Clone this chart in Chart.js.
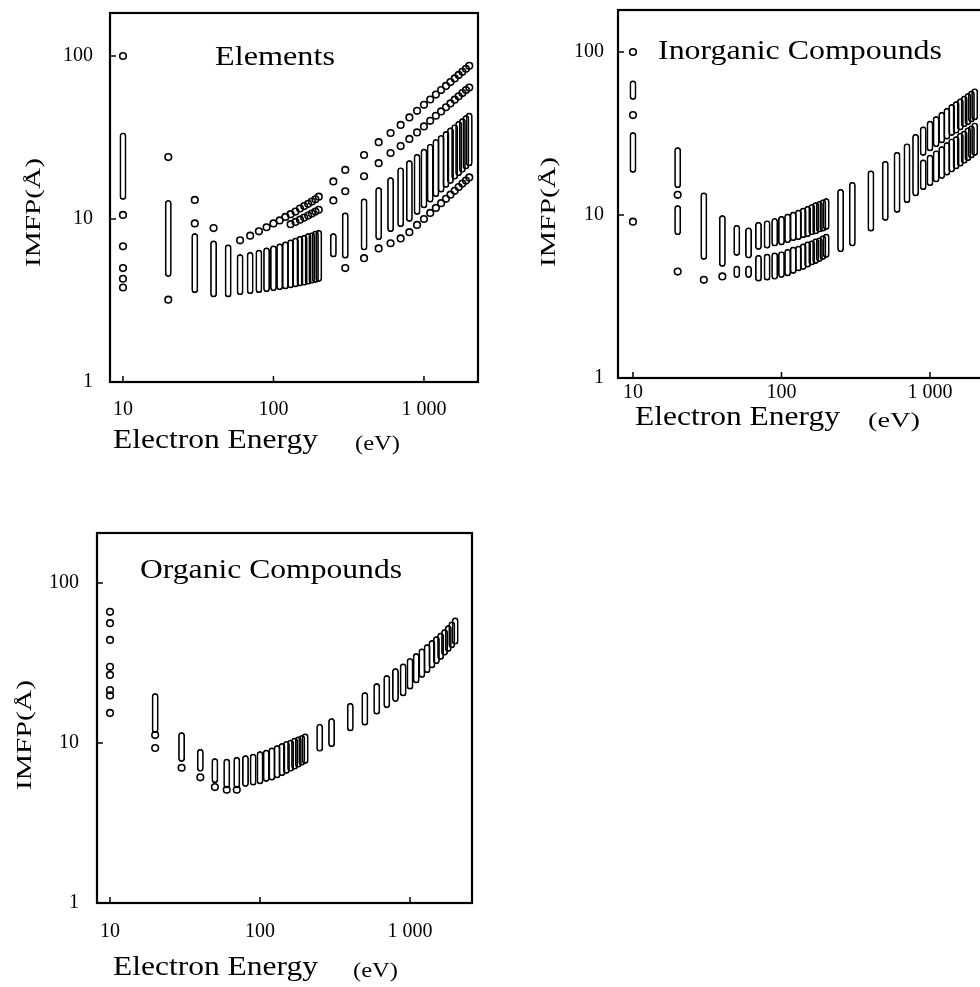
<!DOCTYPE html>
<html>
<head>
<meta charset="utf-8">
<script src="https://cdn.jsdelivr.net/npm/chart.js@4/dist/chart.umd.min.js"></script>
<style>
html, body { margin: 0; padding: 0; background: #fff; overflow: hidden; width: 980px; height: 987px; }
canvas { position: absolute; }
</style>
</head>
<body>
<canvas id="c1" width="490" height="470" style="left:0px;top:0px"></canvas>
<canvas id="c2" width="510" height="470" style="left:490px;top:0px"></canvas>
<canvas id="c3" width="490" height="497" style="left:0px;top:490px"></canvas>
<script>
// ---------- tick labels ----------
const xTickValues = [10, 100, 1000];
const xTickLabels = ['10', '100', '1 000'];
const yTickValues = [1, 10, 100];
const yTickLabels = ['1', '10', '100'];

// ---------- Elements: stacked-circle columns (low / high IMFP, Å) ----------
const elemColEnergy = [10, 20, 30, 40, 50, 60, 70, 80, 90, 100, 110, 120, 130, 140, 150, 160, 170, 180, 190, 200,
  250, 300, 400, 500, 600, 700, 800, 900, 1000, 1100, 1200, 1300, 1400, 1500, 1600, 1700, 1800, 1900, 2000];
const elemColLow = [13.1, 4.4, 3.5, 3.3, 3.3, 3.4, 3.45, 3.5, 3.55, 3.6, 3.65, 3.7, 3.75, 3.8, 3.85, 3.9, 3.95, 4.0, 4.05, 4.1,
  5.8, 5.7, 6.4, 7.4, 8.3, 8.9, 9.6, 10.6, 11.6, 12.6, 13.6, 14.5, 15.5, 16.4, 17.4, 18.3, 19.2, 20.1, 21];
const elemColHigh = [34, 13.1, 8.2, 7.4, 7.0, 6.1, 6.3, 6.5, 6.7, 6.9, 7.1, 7.3, 7.5, 7.7, 7.9, 8.0, 8.2, 8.3, 8.5, 8.6,
  8.2, 11, 13.4, 15.7, 18.1, 20.8, 23, 25.1, 27.1, 29, 31, 32.8, 34.7, 36.5, 38.2, 40, 41.7, 43.4, 45];
// Elements: single circles
const elemPtEnergy = [
  10, 10, 10, 10, 10, 10,
  20, 20,
  30, 30,
  40,
  60, 70, 80, 90, 100, 110, 120, 130, 140, 150, 160, 170, 180, 190, 200,
  130, 140, 150, 160, 170, 180, 190, 200,
  250, 250,
  300, 300, 300,
  400, 400, 400,
  500, 500, 500,
  600, 600, 600,
  700, 700, 700,
  800, 900, 1000, 1100, 1200, 1300, 1400, 1500, 1600, 1700, 1800, 1900, 2000,
  800, 900, 1000, 1100, 1200, 1300, 1400, 1500, 1600, 1700, 1800, 1900, 2000,
  800, 900, 1000, 1100, 1200, 1300, 1400, 1500, 1600, 1700, 1800, 1900, 2000];
const elemPtIMFP = [
  100, 10.6, 6.8, 5.0, 4.3, 3.8,
  24, 3.2,
  13.1, 9.4,
  8.8,
  7.4, 7.9, 8.4, 8.9, 9.4, 9.8, 10.3, 10.7, 11.1, 11.6, 12.0, 12.4, 12.8, 13.2, 13.7,
  9.3, 9.6, 9.9, 10.2, 10.5, 10.8, 11.1, 11.4,
  17, 13,
  20, 14.8, 5.0,
  24.7, 18.3, 5.75,
  29.6, 22, 6.6,
  33.7, 25.4, 7.1,
  37.8, 28, 7.6,
  42, 46.1, 50.2, 54.1, 58.0, 61.8, 65.5, 69.2, 72.9, 76.5, 80, 83.5, 87,
  31, 34, 37, 40, 43, 45.7, 48.5, 51.2, 54, 56.6, 59.2, 61.8, 64,
  8.3, 9.2, 10.0, 10.9, 11.7, 12.5, 13.3, 14.1, 14.9, 15.7, 16.5, 17.2, 18];

// ---------- Inorganic compounds ----------
const inorgColEnergy = [10, 10, 20, 20, 30, 40, 50, 50, 60, 60,
  70, 80, 90, 100, 110, 120, 130, 140, 150, 160, 170, 180, 190, 200,
  70, 80, 90, 100, 110, 120, 130, 140, 150, 160, 170, 180, 190, 200,
  250, 300, 400, 500, 600, 700, 800,
  900, 1000, 1100, 1200, 1300, 1400, 1500, 1600, 1700, 1800, 1900, 2000,
  900, 1000, 1100, 1200, 1300, 1400, 1500, 1600, 1700, 1800, 1900, 2000];
const inorgColLow = [50.8, 18.1, 14.6, 7.5, 5.3, 4.8, 5.6, 4.1, 5.4, 4.1,
  6.1, 6.2, 6.4, 6.5, 6.7, 6.9, 7.0, 7.2, 7.3, 7.5, 7.6, 7.8, 7.9, 8.1,
  3.9, 3.95, 4.0, 4.1, 4.2, 4.35, 4.5, 4.6, 4.75, 4.9, 5.0, 5.15, 5.3, 5.45,
  5.9, 6.4, 7.9, 9.2, 10.3, 11.8, 13,
  23, 24.5, 26, 27.5, 29, 30.5, 31.5, 33, 34.5, 35.5, 37, 38,
  14.2, 15, 15.8, 16.6, 17.4, 18.2, 19, 19.8, 20.6, 21.4, 22.2, 23];
const inorgColHigh = [67, 32.3, 26.1, 11.5, 13.8, 10, 8.7, 4.9, 8.4, 4.9,
  9.1, 9.3, 9.6, 9.9, 10.2, 10.5, 10.8, 11.1, 11.4, 11.7, 12.0, 12.2, 12.5, 12.7,
  5.7, 5.8, 5.9, 6.0, 6.2, 6.4, 6.5, 6.7, 6.9, 7.0, 7.2, 7.3, 7.5, 7.7,
  14.5, 16, 18.8, 21.5, 24.4, 27.6, 31.5,
  35, 38, 40.5, 43, 45.5, 48, 50, 52, 54, 56, 58, 60,
  22, 23.5, 25, 26.5, 28, 29.5, 30.5, 32, 33, 34.5, 35.5, 37];
const inorgPtEnergy = [10, 10, 10, 20, 20, 30, 40];
const inorgPtIMFP = [100, 41, 9.1, 13.3, 4.5, 4.0, 4.2];

// ---------- Organic compounds ----------
const orgColEnergy = [20, 30, 40, 50,
  60, 70, 80, 90, 100, 110, 120, 130, 140, 150, 160, 170, 180, 190, 200,
  250, 300, 400, 500, 600, 700, 800,
  900, 1000, 1100, 1200, 1300, 1400, 1500, 1600, 1700, 1800, 1900, 2000];
const orgColLow = [11.5, 7.6, 6.6, 5.6,
  5.2, 5.2, 5.3, 5.4, 5.5, 5.7, 5.8, 6.0, 6.2, 6.4, 6.6, 6.8, 7.0, 7.2, 7.4,
  8.8, 9.4, 11.8, 12.8, 15, 16.5, 18,
  19.5, 21.5, 23.5, 25.5, 27.3, 29.2, 31, 33, 35, 37, 39, 41];
const orgColHigh = [20.5, 11.7, 9.2, 8.05,
  8.0, 8.2, 8.4, 8.6, 8.9, 9.1, 9.4, 9.7, 10.0, 10.3, 10.5, 10.8, 11.0, 11.2, 11.5,
  13.2, 14.3, 17.8, 20.8, 23.7, 26.6, 29.4,
  31.5, 34, 36.5, 39, 41.5, 44, 46.5, 49, 51.5, 54.5, 57.5, 61];
const orgPtEnergy = [10, 10, 10, 10, 10, 10, 10, 10, 20, 20, 30, 40, 50, 60, 70];
const orgPtIMFP = [66, 56, 44, 29.9, 26.6, 21.4, 19.8, 15.4, 11.2, 9.3, 7.0, 6.1, 5.3, 5.1, 5.1];

// ---------- drawing helpers ----------
const SERIF = '"Liberation Serif", "Times New Roman", serif';

function drawFitted(ctx, t) {
  ctx.save();
  ctx.font = t.size + 'px ' + SERIF;
  ctx.textBaseline = 'alphabetic';
  ctx.textAlign = 'left';
  ctx.fillStyle = '#000';
  const natural = ctx.measureText(t.text).width;
  ctx.translate(t.x, t.y);
  if (t.rot) ctx.rotate(-Math.PI / 2);
  ctx.scale(t.w / natural, 1);
  ctx.fillText(t.text, 0, 0);
  ctx.restore();
}

function zeroPad(s) { s.paddingTop = 0; s.paddingBottom = 0; s.paddingLeft = 0; s.paddingRight = 0; }

function makePanel(canvasId, d, g) {
  const bars = d.colE.map((e, i) => ({ x: e, y: [d.colLow[i], d.colHigh[i]] }));
  const pts = d.ptE.map((e, i) => ({ x: e, y: d.ptV[i] }));
  const decor = {
    id: 'decor' + canvasId,
    afterDraw(chart) {
      const ctx = chart.ctx, a = chart.chartArea;
      const xs = chart.scales.x, ys = chart.scales.y;
      ctx.save();
      ctx.strokeStyle = '#000';
      ctx.lineWidth = 2.2;
      ctx.strokeRect(a.left, a.top, a.right - a.left, a.bottom - a.top);
      ctx.lineWidth = 1.5;
      ctx.beginPath();
      xTickValues.forEach(v => { const px = xs.getPixelForValue(v); ctx.moveTo(px, a.bottom); ctx.lineTo(px, a.bottom - 6); });
      yTickValues.forEach(v => { const py = ys.getPixelForValue(v); ctx.moveTo(a.left, py); ctx.lineTo(a.left + 6, py); });
      ctx.stroke();
      ctx.restore();
      g.texts.forEach(t => drawFitted(ctx, t));
    }
  };
  const tickFont = { family: SERIF, size: 20 };
  return new Chart(document.getElementById(canvasId), {
    type: 'scatter',
    data: {
      datasets: [
        { type: 'bar', data: bars, grouped: false, barThickness: 7, borderWidth: 1.7, borderColor: '#000',
          backgroundColor: 'rgba(0,0,0,0)', borderRadius: 3.5, borderSkipped: false, inflateAmount: 0 },
        { type: 'scatter', data: pts, pointStyle: 'circle', pointRadius: 3.3, borderWidth: 1.6,
          borderColor: '#000', backgroundColor: 'rgba(0,0,0,0)' }
      ]
    },
    options: {
      responsive: false,
      animation: false,
      events: [],
      layout: { padding: { left: 0, top: g.top, right: g.right, bottom: 0 } },
      plugins: { legend: { display: false }, tooltip: { enabled: false }, title: { display: false } },
      scales: {
        x: {
          type: 'logarithmic', min: g.xMin, max: g.xMax,
          grid: { display: false, drawTicks: false }, border: { display: false },
          afterFit: s => { s.height = g.xAxisH; zeroPad(s); },
          afterBuildTicks: s => { s.ticks = xTickValues.map(v => ({ value: v })); },
          ticks: { callback: (v, i) => xTickLabels[i], font: tickFont, color: '#000', padding: g.xPad,
                   maxRotation: 0, minRotation: 0, autoSkip: false }
        },
        y: {
          type: 'logarithmic', min: g.yMin, max: g.yMax,
          grid: { display: false, drawTicks: false }, border: { display: false },
          afterFit: s => { s.width = g.yAxisW; zeroPad(s); },
          afterBuildTicks: s => { s.ticks = yTickValues.map(v => ({ value: v })); },
          ticks: { callback: (v, i) => yTickLabels[i], font: tickFont, color: '#000', padding: g.yPad, autoSkip: false }
        }
      }
    },
    plugins: [decor]
  });
}

makePanel('c1',
  { colE: elemColEnergy, colLow: elemColLow, colHigh: elemColHigh, ptE: elemPtEnergy, ptV: elemPtIMFP },
  { top: 13, right: 12, yAxisW: 110, xAxisH: 88, xMin: 8.2, xMax: 2286, yMin: 1, yMax: 183.6, xPad: 16, yPad: 17,
    texts: [
      { text: 'Elements', x: 215, y: 65, size: 27, w: 120 },
      { text: 'Electron Energy', x: 113, y: 448, size: 28, w: 205 },
      { text: '(eV)', x: 355, y: 450, size: 21, w: 45 },
      { text: 'IMFP(Å)', x: 40, y: 267, size: 21, w: 109, rot: true }
    ] });

makePanel('c2',
  { colE: inorgColEnergy, colLow: inorgColLow, colHigh: inorgColHigh, ptE: inorgPtEnergy, ptV: inorgPtIMFP },
  { top: 10, right: 14, yAxisW: 128, xAxisH: 92, xMin: 7.93, xMax: 2383, yMin: 1, yMax: 181, xPad: 3, yPad: 14,
    texts: [
      { text: 'Inorganic Compounds', x: 168, y: 59, size: 27, w: 284 },
      { text: 'Electron Energy', x: 145, y: 425, size: 28, w: 205 },
      { text: '(eV)', x: 378, y: 427, size: 21, w: 52 },
      { text: 'IMFP(Å)', x: 65, y: 267, size: 21, w: 110, rot: true }
    ] });

makePanel('c3',
  { colE: orgColEnergy, colLow: orgColLow, colHigh: orgColHigh, ptE: orgPtEnergy, ptV: orgPtIMFP },
  { top: 43, right: 18, yAxisW: 97, xAxisH: 84, xMin: 8.19, xMax: 2590, yMin: 1, yMax: 205, xPad: 17, yPad: 18,
    texts: [
      { text: 'Organic Compounds', x: 140, y: 88, size: 27, w: 262 },
      { text: 'Electron Energy', x: 113, y: 485, size: 28, w: 205 },
      { text: '(eV)', x: 353, y: 487, size: 21, w: 45 },
      { text: 'IMFP(Å)', x: 31, y: 300, size: 21, w: 110, rot: true }
    ] });
</script>
</body>
</html>
